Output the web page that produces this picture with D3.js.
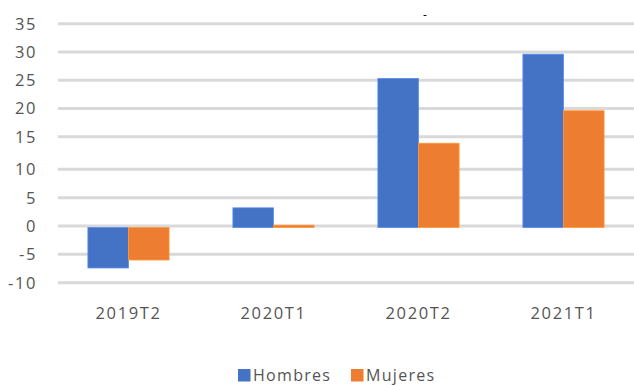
<!DOCTYPE html>
<html><head><meta charset="utf-8">
<script src="https://cdn.jsdelivr.net/npm/d3@7"></script>
<style>
html,body{margin:0;padding:0;background:#fff;}
svg{display:block;font-family:"Open Sans",sans-serif;}
</style></head>
<body>
<svg id="c" width="634" height="385"></svg>
<script>
const categories = ["2019T2","2020T1","2020T2","2021T1"];
const hombres = [-7.4, 3.2, 25.3, 29.6];
const mujeres = [-6.0, 0.15, 14.0, 19.6];
const seriesNames = ["Hombres","Mujeres"];
const seriesColors = ["#4472C4","#ED7D31"];
const yTicks = [-10,-5,0,5,10,15,20,25,30,35];

const svg = d3.select("#c");
const y = d3.scaleLinear().domain([-10,10,15,35]).range([282.7,169.3,136.7,23.7]);
const x0 = d3.scaleBand().domain(categories).range([56,636]).paddingInner(0.44).paddingOuter(0.22);
const x1 = d3.scaleBand().domain(seriesNames).range([0,x0.bandwidth()]);

// gridlines
svg.append("g").selectAll("line").data(yTicks).join("line")
  .attr("x1",58).attr("x2",634)
  .attr("y1",d=>y(d)).attr("y2",d=>y(d))
  .attr("stroke","#d9d9d9").attr("stroke-width",3);

// y labels
svg.append("g").selectAll("text").data(yTicks).join("text")
  .attr("x",37).attr("y",d=>y(d)).attr("dy","0.36em")
  .attr("text-anchor","end").attr("fill","#555")
  .style("font-size","16.5px").style("letter-spacing","1.6px")
  .text(d=>d);

const data = categories.map((c,i)=>({c, vals:[hombres[i],mujeres[i]]}));
const g = svg.append("g");
data.forEach(d=>{
  d.vals.forEach((v,j)=>{
    g.append("rect")
      .attr("x", x0(d.c)+x1(seriesNames[j]))
      .attr("width", x1.bandwidth())
      .attr("y", Math.min(y(v), y(0)+1.5))
      .attr("height", Math.max(Math.abs(y(v)-y(0)-1.5),0.8))
      .attr("fill", seriesColors[j])
      .attr("stroke", d3.color(seriesColors[j]).brighter(0.6))
      .attr("stroke-width",0.8);
  });
});

// x labels
svg.append("g").selectAll("text").data(categories).join("text")
  .attr("x",d=>x0(d)+x0.bandwidth()/2).attr("y",318.5)
  .attr("text-anchor","middle").attr("fill","#555")
  .style("font-size","16.5px").style("letter-spacing","1.6px")
  .text(d=>d);

// stray dash at top
svg.append("text").attr("x",425).attr("y",19).attr("text-anchor","middle")
  .attr("fill","#000").style("font-size","12px").text("-");

// legend
const legendX = [238, 351];
seriesNames.forEach((s,i)=>{
  svg.append("rect").attr("x",legendX[i]).attr("y",369).attr("width",12.5).attr("height",12.5).attr("fill",seriesColors[i]);
  svg.append("text").attr("x",legendX[i]+15).attr("y",380.5).attr("fill","#555")
    .style("font-size","16px").style("letter-spacing","1.3px").text(s);
});
</script>
</body></html>
